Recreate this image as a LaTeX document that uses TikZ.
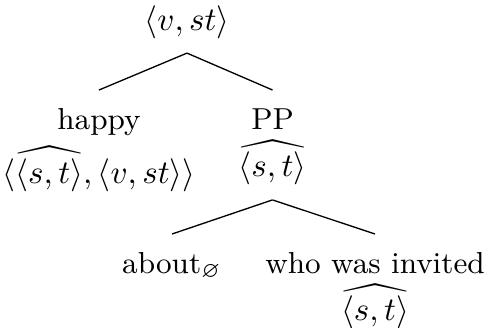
\documentclass[tikz,border=0pt]{standalone}
\usepackage{amsmath}
\usepackage{amssymb}
\usetikzlibrary{positioning}
\newcommand{\lex}[1]{{\fontsize{9.2pt}{12pt}\selectfont\rule{0pt}{7.6pt}#1}}

\begin{document}
\begin{tikzpicture}[
  x=0.303pt, y=-0.303pt,
  cat/.style={inner sep=4.3pt, align=center},
  branch/.style={draw=black, line width=0.4pt}
]
\useasboundingbox (0,0) rectangle (484,327);
\node[cat, anchor=base] (vst) at (187,30) {$\langle v,st\rangle$};
\node[cat, anchor=north] (happy) at (99,90) {\lex{happy}\\[2.2pt]$\langle\widehat{\langle s,t\rangle},\langle v,st\rangle\rangle$};
\node[cat, anchor=north] (pp) at (272.5,90) {\lex{PP}\\[2.2pt]$\widehat{\langle s,t\rangle}$};
\node[cat, anchor=north] (about) at (172,234) {\lex{about$_\varnothing$}};
\node[cat, anchor=north] (invited) at (375,234) {\lex{who was invited}\\[2.2pt]$\widehat{\langle s,t\rangle}$};

\draw[branch] (vst.south)--(happy.north); \draw[branch] (vst.south)--(pp.north);
\draw[branch] (pp.south)--(about.north); \draw[branch] (pp.south)--(invited.north);
\end{tikzpicture}
\end{document}
